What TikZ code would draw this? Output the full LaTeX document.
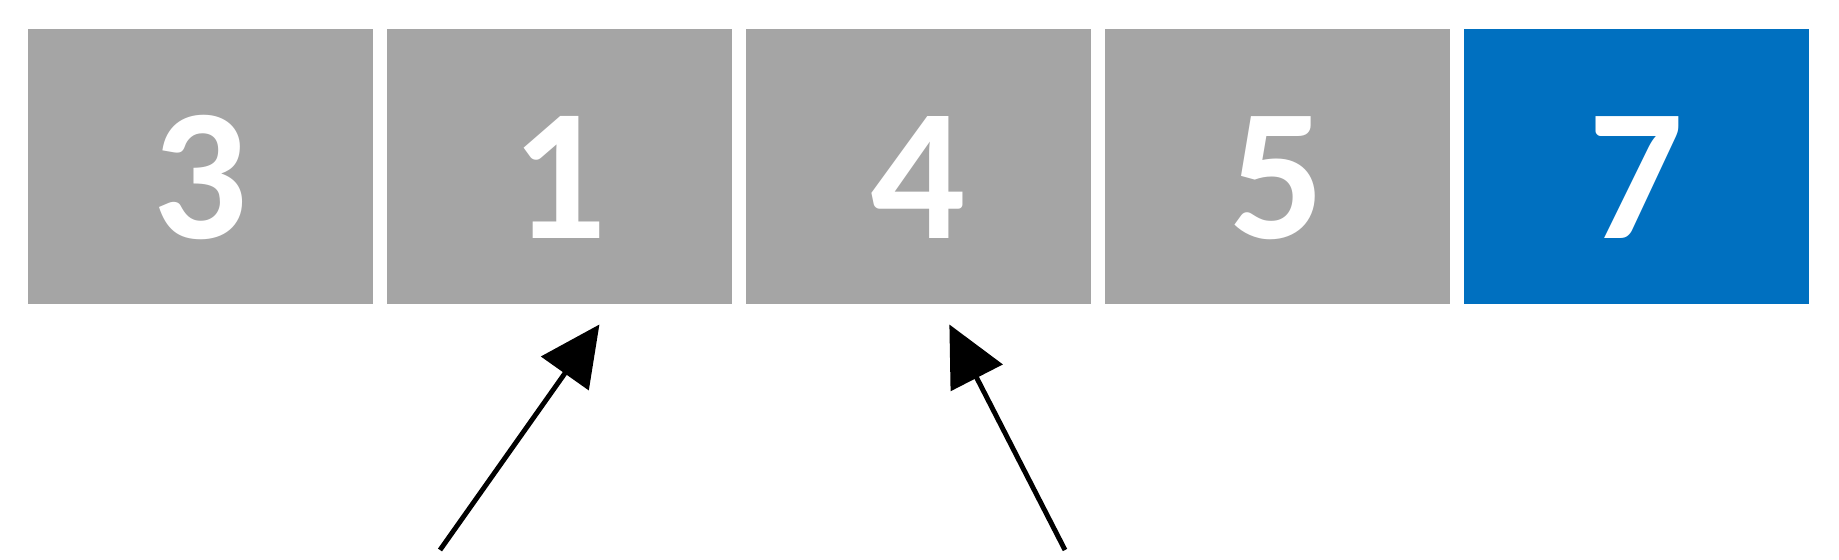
\documentclass[tikz,border=0pt]{standalone}
\usepackage{fontspec}
\setmainfont{Carlito}
\usetikzlibrary{positioning}
\usetikzlibrary{arrows.meta}
\definecolor{cellgray}{HTML}{A5A5A5}
\definecolor{cellblue}{HTML}{0070C0}

\begin{document}
\begin{tikzpicture}[x=0.02cm, y=-0.02cm,
  cell/.style={fill=cellgray, minimum width=6.9cm, minimum height=5.52cm,
    inner sep=0pt, outer sep=0pt, text=white, text height=2.87cm, text depth=0pt,
    font=\fontsize{107}{107}\selectfont\bfseries},
  pointer/.style={line width=2.8pt, -{Triangle[length=1.2cm, width=1.15cm]}}]
  \useasboundingbox (0,0) rectangle (1839,560);

  \node[cell] (c0) at (200.5,166.5) {3};
  \node[cell, right=0.28cm of c0] (c1) {1};
  \node[cell, right=0.28cm of c1] (c2) {4};
  \node[cell, right=0.28cm of c2] (c3) {5};
  \node[cell, fill=cellblue, right=0.28cm of c3] (c4) {7};

  \coordinate (p1) at (440,550);
  \coordinate (p2) at (1065,550);

  \draw[pointer] (p1) -- ([shift={(40,20)}]c1.south);
  \draw[pointer] (p2) -- ([shift={(31,20)}]c2.south);
\end{tikzpicture}
\end{document}
